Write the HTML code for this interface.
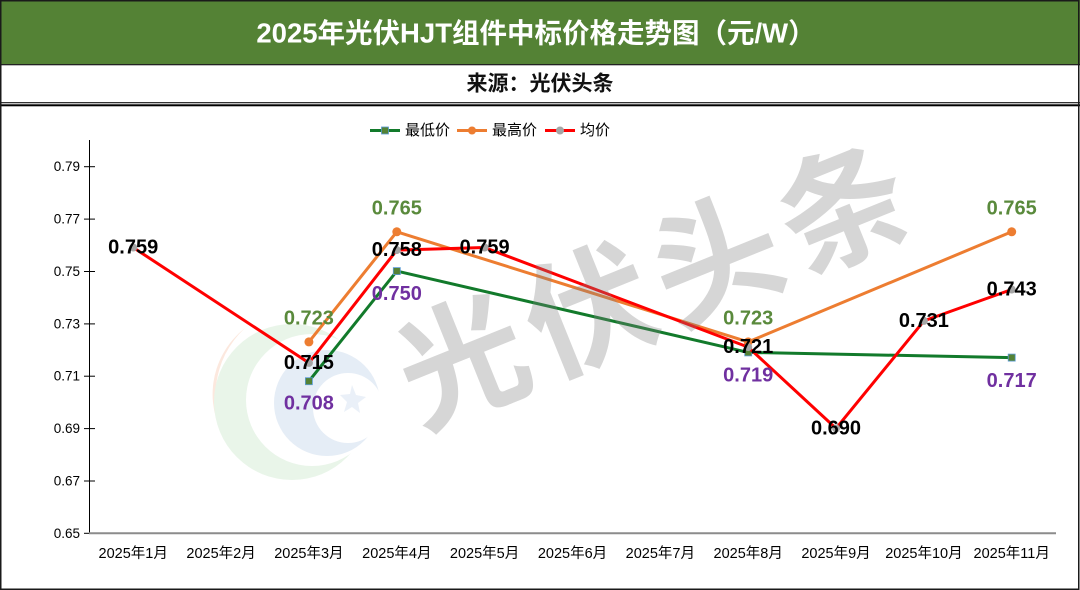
<!DOCTYPE html>
<html>
<head>
<meta charset="utf-8">
<style>
  html,body{margin:0;padding:0;background:#fff;}
  svg{display:block;}
  .cjk{font-family:"Liberation Sans","Noto Sans CJK SC",sans-serif;}
  .lbl{font-family:"Liberation Sans","Noto Sans CJK SC",sans-serif;font-weight:bold;font-size:20px;}
</style>
</head>
<body>
<svg width="1080" height="590" viewBox="0 0 1080 590" xmlns="http://www.w3.org/2000/svg">
  <!-- background -->
  <rect x="0" y="0" width="1080" height="590" fill="#ffffff"/>
  <!-- header -->
  <rect x="0" y="0" width="1080" height="64" fill="#548235"/>
  <rect x="0" y="64" width="1080" height="1" fill="#222"/>
  <rect x="0" y="65" width="1080" height="1" fill="#bbb"/>
  <text x="536" y="33" class="cjk" fill="#ffffff" font-size="27.5" font-weight="bold" text-anchor="middle" dominant-baseline="central">2025年光伏HJT组件中标价格走势图（元/W）</text>
  <text x="540" y="84" class="cjk" fill="#111" font-size="21" font-weight="bold" text-anchor="middle" dominant-baseline="central">来源：光伏头条</text>
  <rect x="0" y="102" width="1080" height="1.3" fill="#333"/>
  <rect x="0" y="104.3" width="1080" height="2" fill="#000"/>
  <!-- outer border -->
  <rect x="0.75" y="0.75" width="1078" height="588.5" fill="none" stroke="#1a1a1a" stroke-width="1.5"/>

  <!-- logo watermark -->
  <g opacity="0.75">
    <path d="M 245 328 A 92 92 0 0 0 232 448 A 84 84 0 0 1 245 328 Z" fill="#fbe1d3"/>
    <circle cx="292" cy="402" r="78" fill="#e2f2e2"/>
    <circle cx="312" cy="400" r="66" fill="#ffffff"/>
    <circle cx="327" cy="403" r="53" fill="#dde7f3"/>
    <circle cx="348" cy="408" r="35" fill="#ffffff"/>
    <path d="M 352 385 l 4 10 l 10 2 l -8 6 l 2 10 l -8 -6 l -8 5 l 3 -10 l -7 -7 l 10 -1 Z" fill="#e4ecf6"/>
  </g>

  <!-- axes -->
  <line x1="89.5" y1="140" x2="89.5" y2="533" stroke="#000" stroke-width="1"/>
  <g stroke="#000" stroke-width="1">
    <line x1="84" y1="166.7" x2="95" y2="166.7"/>
    <line x1="84" y1="219.1" x2="95" y2="219.1"/>
    <line x1="84" y1="271.5" x2="95" y2="271.5"/>
    <line x1="84" y1="323.9" x2="95" y2="323.9"/>
    <line x1="84" y1="376.2" x2="95" y2="376.2"/>
    <line x1="84" y1="428.6" x2="95" y2="428.6"/>
    <line x1="84" y1="481" x2="95" y2="481"/>
    <line x1="84" y1="533.3" x2="90" y2="533.3"/>
  </g>
  <line x1="89" y1="533.3" x2="1056" y2="533.3" stroke="#8c8c8c" stroke-width="2"/>
  <g font-family="Liberation Sans, sans-serif" font-size="13.5" fill="#000" text-anchor="end" dominant-baseline="central">
    <text x="80" y="166.7">0.79</text>
    <text x="80" y="219.1">0.77</text>
    <text x="80" y="271.5">0.75</text>
    <text x="80" y="323.9">0.73</text>
    <text x="80" y="376.2">0.71</text>
    <text x="80" y="428.6">0.69</text>
    <text x="80" y="481">0.67</text>
    <text x="80" y="533.3">0.65</text>
  </g>
  <g class="cjk" font-size="14.5" fill="#000" text-anchor="middle">
    <text x="133.2" y="558">2025年1月</text>
    <text x="221.1" y="558">2025年2月</text>
    <text x="308.9" y="558">2025年3月</text>
    <text x="396.8" y="558">2025年4月</text>
    <text x="484.6" y="558">2025年5月</text>
    <text x="572.5" y="558">2025年6月</text>
    <text x="660.3" y="558">2025年7月</text>
    <text x="748.2" y="558">2025年8月</text>
    <text x="836.0" y="558">2025年9月</text>
    <text x="923.9" y="558">2025年10月</text>
    <text x="1011.7" y="558">2025年11月</text>
  </g>

  <!-- legend -->
  <line x1="370" y1="130.5" x2="400" y2="130.5" stroke="#127A2B" stroke-width="3"/>
  <rect x="381.5" y="127" width="7" height="7" fill="#548235" stroke="#5B9BD5" stroke-width="0.8"/>
  <text x="405" y="130.5" class="cjk" font-size="15" fill="#000" dominant-baseline="central">最低价</text>
  <line x1="457" y1="130.5" x2="487" y2="130.5" stroke="#ED7D31" stroke-width="3"/>
  <circle cx="472" cy="130.5" r="4" fill="#ED7D31"/>
  <text x="492" y="130.5" class="cjk" font-size="15" fill="#000" dominant-baseline="central">最高价</text>
  <line x1="545" y1="130.5" x2="575" y2="130.5" stroke="#FF0000" stroke-width="3"/>
  <circle cx="560" cy="130.5" r="4" fill="#A5A5A5"/>
  <text x="580" y="130.5" class="cjk" font-size="15" fill="#000" dominant-baseline="central">均价</text>

  <!-- series: lowest -->
  <polyline points="308.9,381.2 396.8,271.1 748.2,352.4 1011.7,357.6" fill="none" stroke="#127A2B" stroke-width="3" stroke-linejoin="round"/>
  <g fill="#548235" stroke="#5B9BD5" stroke-width="0.8">
    <rect x="305.4" y="377.7" width="7" height="7"/>
    <rect x="393.3" y="267.6" width="7" height="7"/>
    <rect x="744.7" y="348.9" width="7" height="7"/>
    <rect x="1008.2" y="354.1" width="7" height="7"/>
  </g>
  <!-- series: highest -->
  <polyline points="308.9,341.9 396.8,231.8 748.2,341.9 1011.7,231.8" fill="none" stroke="#ED7D31" stroke-width="3" stroke-linejoin="round"/>
  <g fill="#ED7D31">
    <circle cx="308.9" cy="341.9" r="4.5"/>
    <circle cx="396.8" cy="231.8" r="4.5"/>
    <circle cx="748.2" cy="341.9" r="4.5"/>
    <circle cx="1011.7" cy="231.8" r="4.5"/>
  </g>
  <!-- series: average -->
  <polyline points="133.2,247.5 308.9,362.9 396.8,250.1 484.6,247.5 748.2,347.1 836.0,428.4 923.9,320.9 1011.7,289.5" fill="none" stroke="#FF0000" stroke-width="3" stroke-linejoin="round"/>
  <g fill="#A5A5A5">
    <circle cx="133.2" cy="247.5" r="4"/>
    <circle cx="308.9" cy="362.9" r="4"/>
    <circle cx="396.8" cy="250.1" r="4"/>
    <circle cx="484.6" cy="247.5" r="4"/>
    <circle cx="748.2" cy="347.1" r="4"/>
    <circle cx="836.0" cy="428.4" r="4"/>
    <circle cx="923.9" cy="320.9" r="4"/>
    <circle cx="1011.7" cy="289.5" r="4"/>
  </g>

  <!-- text watermark -->
  <g font-family="Noto Sans CJK SC, sans-serif" font-weight="bold" font-size="128" fill="rgba(128,128,128,0.32)" text-anchor="middle" dominant-baseline="central">
    <text x="459" y="353" transform="rotate(-22 459 353)">光</text>
    <text x="586" y="302" transform="rotate(-22 586 302)">伏</text>
    <text x="713" y="251" transform="rotate(-22 713 251)">头</text>
    <text x="840" y="200" transform="rotate(-22 840 200)">条</text>
  </g>

  <!-- data labels -->
  <g class="lbl" fill="#000" text-anchor="middle" dominant-baseline="central">
    <text x="133.2" y="247.5">0.759</text>
    <text x="308.9" y="362.9">0.715</text>
    <text x="396.8" y="250.1">0.758</text>
    <text x="484.6" y="247.5">0.759</text>
    <text x="748.2" y="347.1">0.721</text>
    <text x="836.0" y="428.4">0.690</text>
    <text x="923.9" y="320.9">0.731</text>
    <text x="1011.7" y="289.5">0.743</text>
  </g>
  <g class="lbl" fill="#5A8A3C" text-anchor="middle" dominant-baseline="central">
    <text x="308.9" y="318.6">0.723</text>
    <text x="396.8" y="208.4">0.765</text>
    <text x="748.2" y="318.6">0.723</text>
    <text x="1011.7" y="208.4">0.765</text>
  </g>
  <g class="lbl" fill="#7030A0" text-anchor="middle" dominant-baseline="central">
    <text x="308.9" y="403.6">0.708</text>
    <text x="396.8" y="294.2">0.750</text>
    <text x="748.2" y="375.4">0.719</text>
    <text x="1011.7" y="381">0.717</text>
  </g>
</svg>
</body>
</html>
